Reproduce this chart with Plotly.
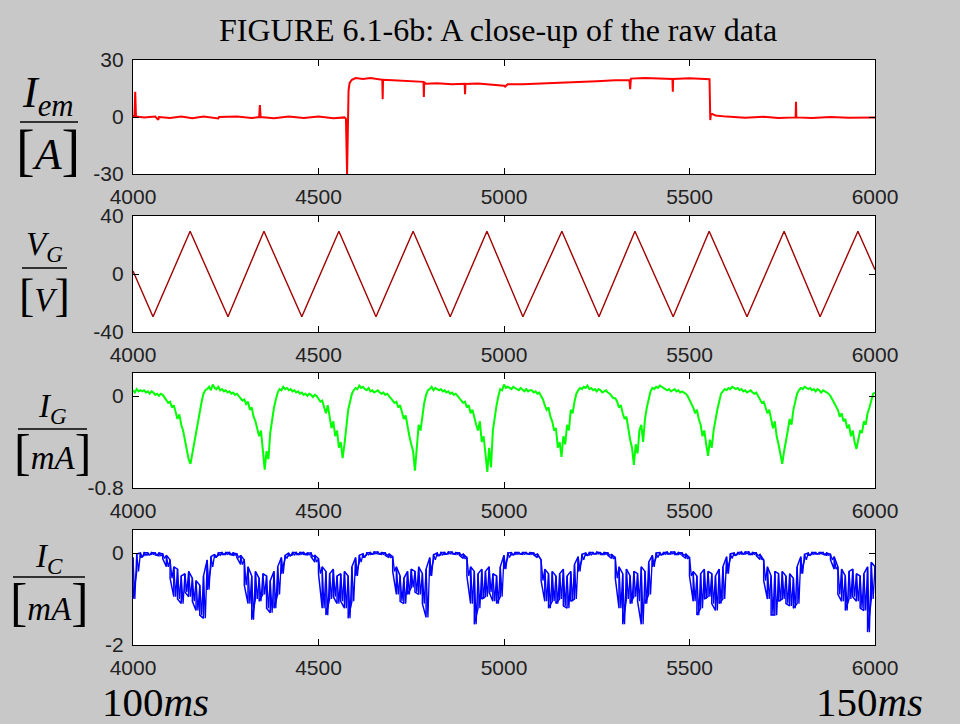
import plotly.graph_objects as go

# ---------------- data ----------------
# emitter current I_em [A]: sampled break points with glitches
iem_x = [4000, 4004, 4006, 4008, 4030, 4060, 4068, 4070, 4100, 4130, 4160, 4190, 4230, 4232,
         4280, 4320, 4340, 4342, 4344, 4380, 4420, 4460, 4500, 4540, 4570, 4574, 4577, 4579,
         4581, 4584, 4590, 4600, 4620, 4640, 4660, 4672, 4673, 4674, 4700, 4730, 4760, 4783,
         4784, 4785, 4790, 4820, 4860, 4894, 4895, 4896, 4930, 4960, 5000, 5003, 5010, 5050,
         5100, 5150, 5200, 5250, 5300, 5338, 5340, 5342, 5380, 5420, 5454, 5455, 5456, 5500,
         5540, 5554, 5556, 5558, 5562, 5570, 5600, 5650, 5700, 5740, 5786, 5787, 5788, 5830,
         5880, 5930, 5970, 6000]
iem_y = [0.5, 0.5, 13.3, 0.3, -0.3, 0.2, -1.5, 0.0, -0.5, 0.3, -0.6, 0.2, -0.8, 0.0,
         0.3, -0.5, 0.0, 6.3, 0.0, -0.6, 0.3, -0.5, 0.2, -0.6, -0.2, -1.0, -30.0, -14.0,
         14.0, 18.0, 19.6, 20.5, 20.0, 20.5, 19.8, 19.6, 9.4, 19.6, 19.3, 18.9, 18.7, 18.5,
         10.5, 18.3, 17.5, 17.8, 17.3, 17.5, 12.0, 17.4, 17.6, 17.0, 16.5, 16.0, 17.2, 17.3,
         17.6, 17.9, 18.3, 18.8, 19.3, 19.5, 14.7, 20.2, 20.5, 20.3, 20.0, 13.3, 20.0, 20.4,
         19.8, 19.9, -1.6, 2.0, 1.5, 0.8, 0.2, -0.4, 0.1, -0.5, -0.2, 8.0, -0.2, -0.5,
         0.0, -0.4, -0.2, -0.3]

# grid voltage V_G [V]: triangle sweep turning points
vg_x = [4000, 4054, 4154, 4256, 4353, 4455, 4555, 4655, 4755, 4855, 4954,
        5051, 5156, 5256, 5353, 5456, 5553, 5655, 5755, 5852, 5954, 6000]
vg_y = [2.0, -29.5, 29.5, -29.5, 29.5, -29.5, 29.5, -29.5, 29.5, -29.5, 29.5,
        -29.5, 29.5, -29.5, 29.5, -29.5, 29.5, -29.5, 29.5, -29.5, 29.5, 3.0]

# grid current I_G [mA], one sample every 5 units from 4000 to 6000
ig_start, ig_step = 4000, 5
ig_y = [
    0.05, 0.03, 0.06, 0.04, 0.05, 0.04, 0.05, 0.03, 0.04, 0.02, 0.04, 0.03, 0.01, 0.02, 0.0, 0.02, 0.01, -0.01, -0.03, -0.06,
    -0.05, -0.1, -0.08, -0.14, -0.2, -0.16, -0.25, -0.3, -0.38, -0.45, -0.55, -0.59, -0.5, -0.42, -0.3, -0.22, -0.12, -0.05, 0.02, 0.05,
    0.06, 0.08, 0.05, 0.1, 0.07, 0.06, 0.08, 0.05, 0.06, 0.04, 0.05, 0.03, 0.04, 0.02, 0.03, 0.01, 0.02, 0.0, -0.02, -0.04,
    -0.03, -0.07, -0.05, -0.12, -0.1, -0.18, -0.22, -0.28, -0.35, -0.3, -0.5, -0.64, -0.48, -0.55, -0.32, -0.2, -0.1, -0.03, 0.03, 0.06,
    0.05, 0.08, 0.06, 0.07, 0.05, 0.06, 0.04, 0.05, 0.03, 0.04, 0.02, 0.03, 0.01, 0.02, 0.0, 0.02, 0.01, -0.01, 0.01, 0.0,
    -0.02, -0.05, -0.04, -0.1, -0.15, -0.08, -0.2, -0.28, -0.22, -0.35, -0.3, -0.45, -0.4, -0.54, -0.42, -0.25, -0.12, -0.05, 0.02, 0.05,
    0.07, 0.06, 0.09, 0.07, 0.08, 0.06, 0.05, 0.07, 0.04, 0.05, 0.03, 0.04, 0.05, 0.03, 0.02, 0.03, 0.01, 0.02, 0.0, -0.02,
    -0.03, -0.06, -0.05, -0.1, -0.08, -0.15, -0.2, -0.17, -0.28, -0.35, -0.42, -0.48, -0.65, -0.4, -0.25, -0.3, -0.15, -0.06, 0.01, 0.05,
    0.06, 0.08, 0.05, 0.07, 0.06, 0.05, 0.06, 0.04, 0.05, 0.03, 0.04, 0.02, 0.03, 0.01, 0.02, 0.0, -0.01, -0.03, -0.06, -0.05,
    -0.1, -0.08, -0.15, -0.12, -0.2, -0.25, -0.3, -0.22, -0.4, -0.35, -0.5, -0.66, -0.45, -0.62, -0.3, -0.18, -0.08, 0.0, 0.06, 0.05,
    0.1, 0.07, 0.08, 0.07, 0.06, 0.08, 0.07, 0.06, 0.05, 0.07, 0.05, 0.04, 0.06, 0.04, 0.05, 0.05, 0.03, 0.04, 0.02, 0.03,
    0.0, -0.03, -0.08, -0.12, -0.1, -0.18, -0.22, -0.3, -0.28, -0.45, -0.4, -0.53, -0.35, -0.42, -0.25, -0.3, -0.12, -0.15, -0.05, 0.02,
    0.05, 0.07, 0.06, 0.08, 0.07, 0.09, 0.06, 0.07, 0.05, 0.06, 0.04, 0.06, 0.05, 0.03, 0.04, 0.05, 0.03, 0.02, 0.0, -0.02,
    -0.02, -0.05, -0.1, -0.08, -0.15, -0.2, -0.18, -0.3, -0.38, -0.45, -0.6, -0.42, -0.5, -0.3, -0.25, -0.4, -0.2, -0.1, -0.02, 0.04,
    0.07, 0.06, 0.08, 0.07, 0.09, 0.08, 0.07, 0.06, 0.05, 0.06, 0.04, 0.05, 0.06, 0.04, 0.05, 0.03, 0.04, 0.03, 0.02, 0.0,
    -0.03, -0.06, -0.1, -0.15, -0.12, -0.2, -0.25, -0.35, -0.3, -0.42, -0.52, -0.38, -0.45, -0.3, -0.2, -0.12, -0.05, 0.02, 0.04, 0.06,
    0.05, 0.07, 0.06, 0.08, 0.07, 0.06, 0.07, 0.05, 0.06, 0.04, 0.05, 0.03, 0.04, 0.05, 0.03, 0.02, 0.03, 0.0, -0.03, -0.06,
    -0.05, -0.1, -0.15, -0.12, -0.2, -0.28, -0.22, -0.35, -0.42, -0.5, -0.59, -0.48, -0.4, -0.3, -0.2, -0.25, -0.12, -0.05, 0.02, 0.05,
    0.07, 0.06, 0.08, 0.07, 0.06, 0.07, 0.05, 0.06, 0.04, 0.06, 0.05, 0.03, 0.05, 0.04, 0.03, 0.02, 0.0, -0.03, -0.06, -0.1,
    -0.12, -0.18, -0.15, -0.22, -0.2, -0.28, -0.25, -0.35, -0.3, -0.4, -0.46, -0.38, -0.3, -0.32, -0.22, -0.25, -0.15, -0.1, -0.05, 0.02,
    0.03,
]

# collector current I_C [mA]: per 10-unit bin, upper and lower extent of the samples
ic_start, ic_bin = 4000, 10
ic_hi = [
    -0.1, -0.02, 0.0, 0.01, 0.0, 0.01, 0.0, 0.0, -0.02, -0.05,
    -0.15, -0.3, -0.35, -0.5, -0.45, -0.4, -0.55, -0.6, -0.7, -0.5, -0.15, -0.08, -0.03, 0.0, 0.01, 0.01, 0.01, 0.0, -0.02, -0.05,
    -0.15, -0.3, -0.5, -0.4, -0.55, -0.45, -0.5, -0.6, -0.4, -0.3, -0.1, -0.05, 0.0, 0.01, 0.01, 0.01, 0.01, 0.0, 0.0, -0.05,
    -0.12, -0.3, -0.4, -0.45, -0.35, -0.5, -0.45, -0.4, -0.5, -0.3, -0.1, -0.05, -0.02, 0.0, 0.01, 0.02, 0.02, 0.01, 0.0, -0.02,
    -0.08, -0.3, -0.5, -0.55, -0.4, -0.35, -0.4, -0.3, -0.45, -0.35, -0.1, -0.04, 0.0, 0.01, 0.01, 0.02, 0.02, 0.01, 0.0, -0.02,
    -0.1, -0.3, -0.4, -0.45, -0.35, -0.4, -0.3, -0.45, -0.5, -0.3, -0.05, 0.0, 0.01, 0.01, 0.01, 0.01, 0.01, 0.01, 0.0, -0.02,
    -0.15, -0.35, -0.45, -0.4, -0.5, -0.45, -0.35, -0.5, -0.4, -0.25, -0.08, -0.03, 0.0, 0.01, 0.01, 0.02, 0.01, 0.01, 0.0, -0.03,
    -0.1, -0.3, -0.45, -0.35, -0.5, -0.4, -0.45, -0.3, -0.4, -0.2, -0.05, 0.0, 0.01, 0.01, 0.02, 0.02, 0.02, 0.01, 0.0, -0.02,
    -0.1, -0.4, -0.5, -0.45, -0.35, -0.4, -0.45, -0.5, -0.35, -0.3, -0.08, -0.02, 0.0, 0.01, 0.02, 0.02, 0.02, 0.01, 0.0, -0.03,
    -0.15, -0.3, -0.5, -0.4, -0.45, -0.4, -0.5, -0.45, -0.55, -0.3, -0.08, -0.03, 0.0, 0.01, 0.01, 0.01, 0.01, 0.0, -0.03, -0.08,
    -0.3, -0.35, -0.5, -0.4, -0.35, -0.45, -0.5, -0.45, -0.3, -0.2, -0.3,
]
ic_lo = [
    -1.0, -0.4, -0.1, -0.05, -0.04, -0.03, -0.04, -0.06, -0.12, -0.3,
    -0.55, -0.95, -1.0, -1.1, -0.85, -0.95, -1.05, -1.25, -1.35, -1.42, -0.8, -0.3, -0.1, -0.05, -0.03, -0.03, -0.03, -0.05, -0.1, -0.25,
    -0.7, -1.1, -1.45, -1.0, -1.05, -0.9, -1.2, -1.3, -1.2, -0.9, -0.45, -0.12, -0.06, -0.04, -0.03, -0.03, -0.03, -0.04, -0.08, -0.2,
    -0.45, -1.2, -1.35, -1.0, -0.95, -1.1, -1.05, -1.2, -1.42, -1.05, -0.5, -0.2, -0.1, -0.04, -0.03, -0.02, -0.02, -0.03, -0.05, -0.1,
    -0.4, -0.9, -1.05, -1.1, -0.9, -0.75, -0.85, -0.9, -1.1, -1.4, -0.5, -0.15, -0.06, -0.04, -0.03, -0.02, -0.02, -0.03, -0.05, -0.12,
    -0.5, -1.1, -1.55, -1.2, -1.0, -0.95, -0.85, -1.05, -1.1, -0.95, -0.35, -0.1, -0.04, -0.03, -0.02, -0.03, -0.02, -0.03, -0.04, -0.1,
    -0.6, -1.05, -1.2, -1.05, -1.1, -1.0, -1.15, -1.2, -1.05, -1.0, -0.4, -0.15, -0.05, -0.04, -0.02, -0.02, -0.03, -0.03, -0.05, -0.12,
    -0.55, -1.2, -1.55, -1.0, -1.1, -0.95, -1.05, -1.55, -1.1, -0.9, -0.3, -0.1, -0.04, -0.03, -0.02, -0.02, -0.03, -0.03, -0.05, -0.12,
    -0.5, -1.05, -1.35, -1.2, -1.0, -0.95, -1.1, -1.25, -1.1, -1.0, -0.45, -0.12, -0.05, -0.03, -0.02, -0.02, -0.03, -0.03, -0.06, -0.14,
    -0.6, -1.0, -1.35, -1.35, -1.05, -1.0, -1.1, -1.15, -1.2, -1.1, -0.45, -0.15, -0.05, -0.03, -0.02, -0.02, -0.03, -0.05, -0.15, -0.35,
    -0.9, -1.05, -1.25, -1.0, -0.95, -1.05, -1.2, -1.25, -1.72, -1.0, -0.55,
]

x_ticks = [4000, 4500, 5000, 5500, 6000]
panel_y_ticks = [[-30, 0, 30], [-40, 0, 40], [-0.8, 0], [-2, 0]]
panel_y_text = [["-30", "0", "30"], ["-40", "0", "40"], ["-0.8", "0"], ["-2", "0"]]
panel_y_range = [[-30, 30], [-40, 40], [-0.8, 0.2], [-2, 0.5]]

# ---------------- geometry helpers (pixel -> paper) ----------------
W, H = 960, 724


def px(x):
    return x / W


def py(y):
    return 1 - y / H


plot_left, plot_right = 133, 875
panel_rows = [(60, 174), (216, 332), (373, 488), (530, 645)]

# ---------------- traces ----------------
ig_x = [ig_start + ig_step * i for i in range(len(ig_y))]

# I_C noise: each bin drawn as a vertical stroke from its upper to its lower
# extent (alternating direction), plus a zig-zag through the bin halves
ic_vx, ic_vy, ic_zx, ic_zy = [], [], [], []
for i, (hi, lo) in enumerate(zip(ic_hi, ic_lo)):
    x0 = ic_start + ic_bin * i
    ic_vx += [x0, x0]
    ic_vy += [hi, lo] if i % 2 == 0 else [lo, hi]
    ic_zx += [x0, x0 + ic_bin / 2]
    ic_zy += [hi, lo]

fig = go.Figure()
fig.add_trace(go.Scatter(x=iem_x, y=iem_y, mode="lines", line=dict(color="#ff0000", width=2.0),
                         xaxis="x", yaxis="y", hoverinfo="skip"))
fig.add_trace(go.Scatter(x=vg_x, y=vg_y, mode="lines", line=dict(color="#a00000", width=1.4),
                         xaxis="x2", yaxis="y2", hoverinfo="skip"))
fig.add_trace(go.Scatter(x=ig_x, y=ig_y, mode="lines", line=dict(color="#00ff00", width=2.0),
                         xaxis="x3", yaxis="y3", hoverinfo="skip"))
fig.add_trace(go.Scatter(x=ic_zx, y=ic_zy, mode="lines", line=dict(color="#0000ff", width=1.3),
                         xaxis="x4", yaxis="y4", hoverinfo="skip"))
fig.add_trace(go.Scatter(x=ic_vx, y=ic_vy, mode="lines", line=dict(color="#0000ff", width=1.5),
                         xaxis="x4", yaxis="y4", hoverinfo="skip"))

tick_font = dict(family="Liberation Sans, Arial, sans-serif", size=21, color="#222222")
layout = dict(
    width=W, height=H,
    margin=dict(l=0, r=0, t=0, b=0, autoexpand=False),
    paper_bgcolor="#c8c8c8",
    plot_bgcolor="#ffffff",
    showlegend=False,
)
for k, (top, bot) in enumerate(panel_rows):
    sfx = "" if k == 0 else str(k + 1)
    layout["xaxis" + sfx] = dict(
        domain=[px(plot_left), px(plot_right)], anchor="y" + sfx, range=[4000, 6000],
        tickvals=x_ticks, ticktext=[str(t) for t in x_ticks],
        ticks="inside", ticklen=6, tickcolor="black", tickwidth=1,
        showline=True, linecolor="black", linewidth=1.2, mirror="ticks",
        showgrid=False, zeroline=False, tickfont=tick_font,
        automargin=False, ticklabelstandoff=4,
    )
    layout["yaxis" + sfx] = dict(
        domain=[py(bot), py(top)], anchor="x" + sfx, range=panel_y_range[k],
        tickvals=panel_y_ticks[k], ticktext=panel_y_text[k],
        ticks="inside", ticklen=6, tickcolor="black", tickwidth=1,
        showline=True, linecolor="black", linewidth=1.2, mirror="ticks",
        showgrid=False, zeroline=False, tickfont=tick_font,
        automargin=False, ticklabelstandoff=4,
    )
fig.update_layout(**layout)

# ---------------- text ----------------
serif = "Liberation Serif, Times New Roman, serif"
ann = []
ann.append(dict(text="FIGURE 6.1-6b: A close-up of the raw data", x=px(498), y=py(30),
                xref="paper", yref="paper", showarrow=False, xanchor="center", yanchor="middle",
                font=dict(family=serif, size=32, color="black")))


def fraction(num, den, cx, num_y, bar_y, den_y, bar_x0, bar_x1, size):
    ann.append(dict(text=num, x=px(cx), y=py(num_y), xref="paper", yref="paper", showarrow=False,
                    xanchor="center", yanchor="middle", font=dict(family=serif, size=size, color="black")))
    ann.append(dict(text=den, x=px(cx), y=py(den_y), xref="paper", yref="paper", showarrow=False,
                    xanchor="center", yanchor="middle", font=dict(family=serif, size=size, color="black")))
    fig.add_shape(type="line", xref="paper", yref="paper", x0=px(bar_x0), x1=px(bar_x1),
                  y0=py(bar_y), y1=py(bar_y), line=dict(color="black", width=1.5))


def bracket(inner, bsize):
    return (f"<span style='font-size:{bsize}px'>[</span><i>{inner}</i>"
            f"<span style='font-size:{bsize}px'>]</span>")


fraction("<i>I<sub>em</sub></i>", bracket("A", 56), 48, 95, 122, 150, 20, 78, 44)
fraction("<i>V<sub>G</sub></i>", bracket("V", 46), 44, 246, 268, 295, 22, 67, 33)
fraction("<i>I<sub>G</sub></i>", bracket("mA", 50), 52, 408, 429, 452, 18, 87, 33)
fraction("<i>I<sub>C</sub></i>", bracket("mA", 52), 49, 558, 577, 602, 13, 85, 33)

ann.append(dict(text="100<i>ms</i>", x=px(100), y=py(702), xref="paper", yref="paper", showarrow=False,
                xanchor="left", yanchor="middle", font=dict(family=serif, size=41, color="black")))
ann.append(dict(text="150<i>ms</i>", x=px(925), y=py(702), xref="paper", yref="paper", showarrow=False,
                xanchor="right", yanchor="middle", font=dict(family=serif, size=41, color="black")))

fig.update_layout(annotations=ann)
fig.write_html("out.html")
